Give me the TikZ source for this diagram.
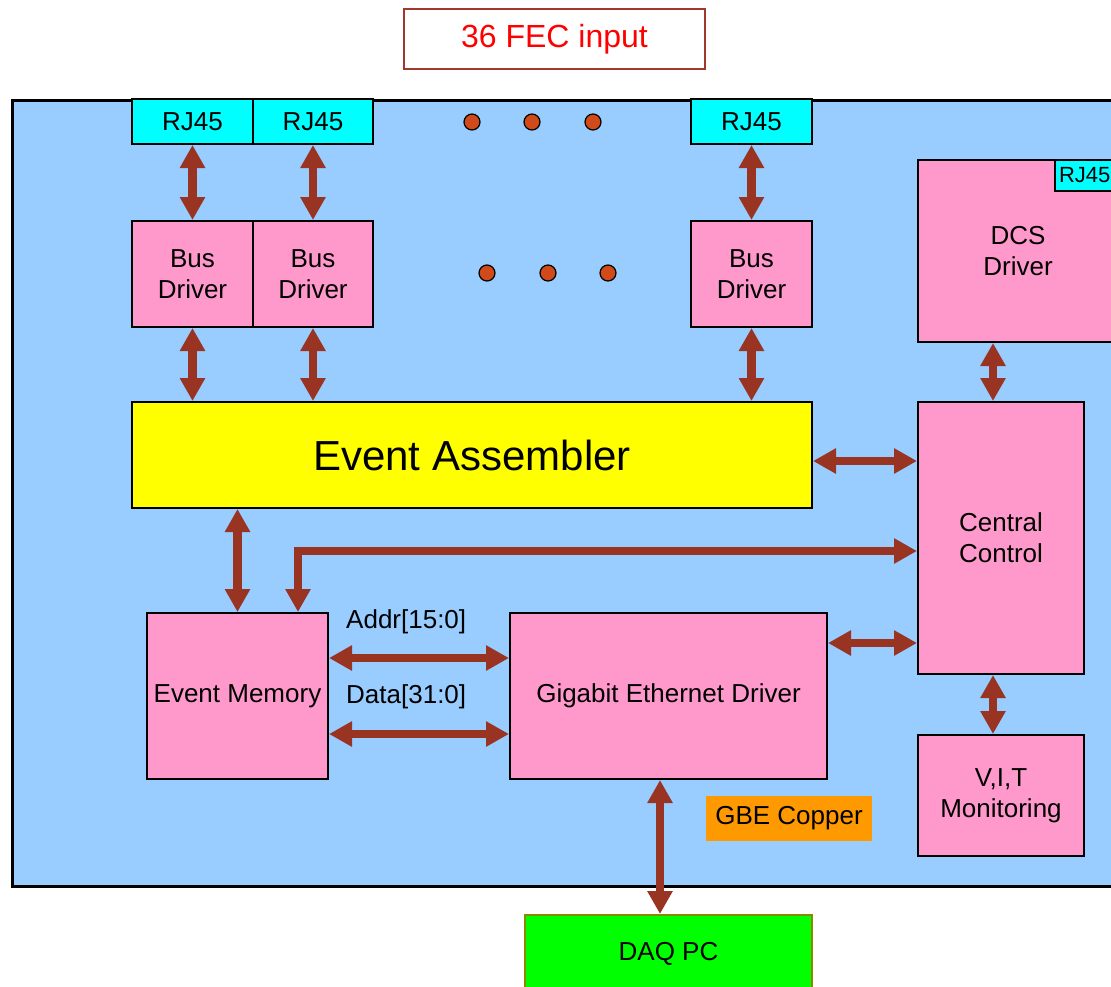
\documentclass[tikz,border=0pt]{standalone}
\usepackage{fontspec}
\setmainfont{Liberation Sans}
\usetikzlibrary{arrows.meta}
\definecolor{bgblue}{HTML}{99CCFF}
\definecolor{boxpink}{HTML}{FF99CC}
\definecolor{rjcyan}{HTML}{00FFFF}
\definecolor{eayellow}{HTML}{FFFF00}
\definecolor{arrred}{HTML}{993322}
\definecolor{dotred}{HTML}{D04A1A}
\definecolor{fecborder}{HTML}{A0392B}
\definecolor{fectext}{HTML}{FF0000}
\definecolor{gbeorange}{HTML}{FF9900}
\definecolor{daqgreen}{HTML}{00FF00}
\definecolor{daqborder}{HTML}{8A8A00}
\tikzset{
  txt/.style={font=\fontsize{26}{31}\selectfont, align=center},
  blk/.style={draw=black, line width=2pt, inner sep=1pt, txt},
  pinkbox/.style={blk, fill=boxpink},
  rjbox/.style={blk, fill=rjcyan},
  arr/.style={draw=arrred, line width=8.5pt, {Triangle[width=24pt,length=23pt]}-{Triangle[width=24pt,length=23pt]}},
  dotc/.style={circle, draw=black, line width=1.2pt, fill=dotred, minimum size=16pt, inner sep=0pt},
  lbl/.style={txt, inner sep=0pt, anchor=west}
}
\begin{document}
\begin{tikzpicture}[x=1pt,y=-1pt]
\useasboundingbox (0,0) rectangle (1111,986);
\clip (0,0) rectangle (1111,986);
% FEC input
\node[draw=fecborder, line width=2pt, minimum width=301pt, minimum height=60pt, inner sep=0pt,
      text=fectext, font=\fontsize{32}{38}\selectfont] (fec) at (554.5,39) {36 FEC input};
% board
\node[draw=black, line width=2.5pt, fill=bgblue, minimum width=1120pt, minimum height=786pt, inner sep=0pt, anchor=north west] (board) at (11,99) {};
% RJ45
\node[rjbox, minimum width=121pt, minimum height=45pt] (rj1) at (192.5,121.5) {RJ45};
\node[rjbox, minimum width=120pt, minimum height=45pt] (rj2) at (313,121.5) {RJ45};
\node[rjbox, minimum width=121pt, minimum height=45pt] (rj3) at (751.5,121.5) {RJ45};
% dots
\node[dotc] (d1) at (472,122) {};
\node[dotc] (d2) at (532,122) {};
\node[dotc] (d3) at (593,122) {};
\node[dotc] (d4) at (487,273) {};
\node[dotc] (d5) at (548,273) {};
\node[dotc] (d6) at (608,273) {};
% bus drivers
\node[pinkbox, minimum width=121pt, minimum height=106pt] (bd1) at (192.5,274) {Bus\\Driver};
\node[pinkbox, minimum width=120pt, minimum height=106pt] (bd2) at (313,274) {Bus\\Driver};
\node[pinkbox, minimum width=121pt, minimum height=106pt] (bd3) at (751.5,274) {Bus\\Driver};
% event assembler
\node[blk, fill=eayellow, minimum width=680pt, minimum height=106pt, font=\fontsize{42}{50}\selectfont] (ea) at (472,455) {Event Assembler};
% DCS
\node[pinkbox, minimum width=200pt, minimum height=182pt] (dcs) at (1018,251) {DCS\\Driver};
\node[rjbox, minimum width=62pt, minimum height=31pt, anchor=north west, inner sep=1pt, text width=54pt, align=left, font=\fontsize{22}{26}\selectfont] (rj4) at (1054,159) {RJ45};
% central control
\node[pinkbox, minimum width=166pt, minimum height=272pt] (cc) at (1001,538) {Central\\Control};
\node[pinkbox, minimum width=166pt, minimum height=121pt] (vit) at (1001,795.5) {V,I,T\\Monitoring};
% memory & GbE
\node[pinkbox, minimum width=181pt, minimum height=166pt] (em) at (237.5,696) {Event Memory};
\node[pinkbox, minimum width=317pt, minimum height=166pt] (ged) at (668.5,696) {Gigabit Ethernet Driver};
\node[txt, fill=gbeorange, minimum width=166pt, minimum height=45pt, inner sep=0pt] (gbe) at (789,818) {GBE Copper};
\node[draw=daqborder, line width=2pt, fill=daqgreen, minimum width=287pt, minimum height=78pt, inner sep=0pt, txt] (daq) at (668.5,954) {DAQ PC};
% labels
\node[lbl] (addr) at (346,622) {Addr[15:0]};
\node[lbl] (data) at (346,697) {Data[31:0]};
% arrows RJ45 - bus drivers
\draw[arr] (rj1.south) -- (bd1.north);
\draw[arr] (rj2.south) -- (bd2.north);
\draw[arr] (rj3.south) -- (bd3.north);
% bus drivers - EA
\draw[arr] (bd1.south) -- (bd1.south |- ea.north);
\draw[arr] (bd2.south) -- (bd2.south |- ea.north);
\draw[arr] (bd3.south) -- (bd3.south |- ea.north);
% EA - CC
\draw[arr] (ea.east |- 0,461) -- (cc.west |- 0,461);
% EA - EM
\draw[arr] (ea.south -| em.north) -- (em.north);
% CC - EM
\draw[arr] (cc.west |- 0,551) -| ([xshift=60.5pt]em.north);
% Addr, Data
\draw[arr] (em.east |- 0,658) -- (ged.west |- 0,658);
\draw[arr] (em.east |- 0,734) -- (ged.west |- 0,734);
% GED - CC
\draw[arr] (ged.east |- 0,643) -- (cc.west |- 0,643);
% CC - DCS, VIT
\draw[arr] (cc.north -| 993,0) -- (dcs.south -| 993,0);
\draw[arr] (cc.south -| 993,0) -- (vit.north -| 993,0);
% GED - DAQ
\draw[arr] (ged.south -| 660,0) -- (daq.north -| 660,0);
\end{tikzpicture}
\end{document}
